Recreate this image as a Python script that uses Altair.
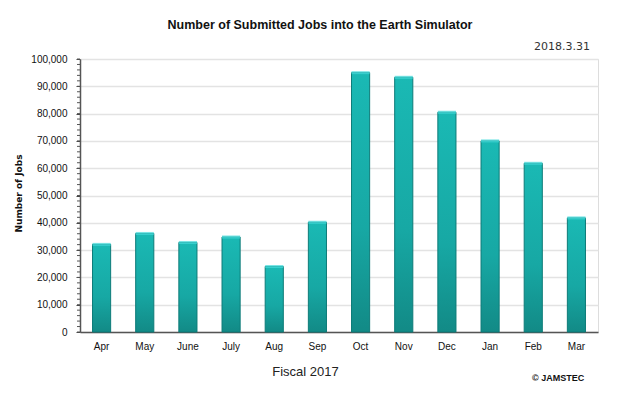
import altair as alt
import pandas as pd

months = ["Apr", "May", "June", "July", "Aug", "Sep", "Oct", "Nov", "Dec", "Jan", "Feb", "Mar"]
jobs = [32100, 36100, 32800, 34800, 24000, 40200, 95000, 93300, 80500, 70000, 61800, 41800]
y_ticks = [0, 10000, 20000, 30000, 40000, 50000, 60000, 70000, 80000, 90000, 100000]
minor_ticks = list(range(0, 100001, 2000))

df = pd.DataFrame({"month": months, "jobs": jobs})
ticks_df = pd.DataFrame({"v": minor_ticks})
one = pd.DataFrame({"a": [0]})

W, H = 518, 273
FONT = "DejaVu Sans"
LAB = "Liberation Sans"

x_axis = alt.Axis(labelAngle=0, labelFontSize=10, labelColor="#111", labelFont=LAB,
                  labelPadding=9, ticks=False, domainColor="#555", domainWidth=1.5,
                  titleFont=LAB, titleFontSize=13, titleFontWeight="normal",
                  titleColor="#222", titlePadding=14, titleX=225)
x_scale = alt.Scale(paddingInner=0.58, paddingOuter=0.29)
y_scale = alt.Scale(domain=[0, 100000], nice=False)
y_axis = alt.Axis(values=y_ticks, format=",.0f", labelFontSize=10, labelFont=LAB,
                  labelColor="#111", labelPadding=9, tickSize=4, tickColor="#444",
                  domainColor="#555", domainWidth=1.5, gridColor="#e3e3e3", gridWidth=1.5,
                  titleFont=FONT, titleFontSize=9, titleFontWeight="bold",
                  titleColor="#111", titleX=-57, titleY=134)

x_enc = alt.X("month:N", sort=months, title="Fiscal 2017", scale=x_scale, axis=x_axis)
y_enc = alt.Y("jobs:Q", scale=y_scale, title="Number of Jobs", axis=y_axis)

grad = alt.LinearGradient(gradient="linear", x1=0, x2=0, y1=0, y2=1,
                          stops=[alt.GradientStop(color="#1ab9b4", offset=0),
                                 alt.GradientStop(color="#17a8a4", offset=0.6),
                                 alt.GradientStop(color="#128a86", offset=1)])

bars = alt.Chart(df).mark_bar(color=grad, stroke="#0d7b78", strokeWidth=1).encode(x=x_enc, y=y_enc)

caps = alt.Chart(df).mark_tick(color="#46dcdc", thickness=3, bandSize=16).encode(x=x_enc, y=y_enc)

minor = alt.Chart(ticks_df).mark_rule(color="#555", strokeWidth=1).encode(
    y=alt.Y("v:Q", scale=y_scale, title="Number of Jobs", axis=y_axis),
    x=alt.value(-3), x2=alt.value(0))

title = alt.Chart(one).mark_text(text="Number of Submitted Jobs into the Earth Simulator",
                                 font=LAB, fontSize=12.5, fontWeight="bold",
                                 color="#111").encode(x=alt.value(240), y=alt.value(-34))
date = alt.Chart(one).mark_text(text="2018.3.31", font=FONT, fontSize=11, color="#333",
                                align="right").encode(x=alt.value(510), y=alt.value(-12))
copy = alt.Chart(one).mark_text(text="© JAMSTEC", font=LAB, fontSize=9,
                                fontWeight="bold", color="#111", align="left").encode(
    x=alt.value(452), y=alt.value(319))

chart = alt.layer(bars, caps, minor, title, date, copy).properties(
    width=W, height=H, autosize=alt.AutoSizeParams(type="none"),
    padding={"left": 72, "top": 51, "right": 34, "bottom": 57}
).configure_view(stroke=None).configure(background="white")

chart.save("out.html", embed_options={"renderer": "svg", "actions": False})
